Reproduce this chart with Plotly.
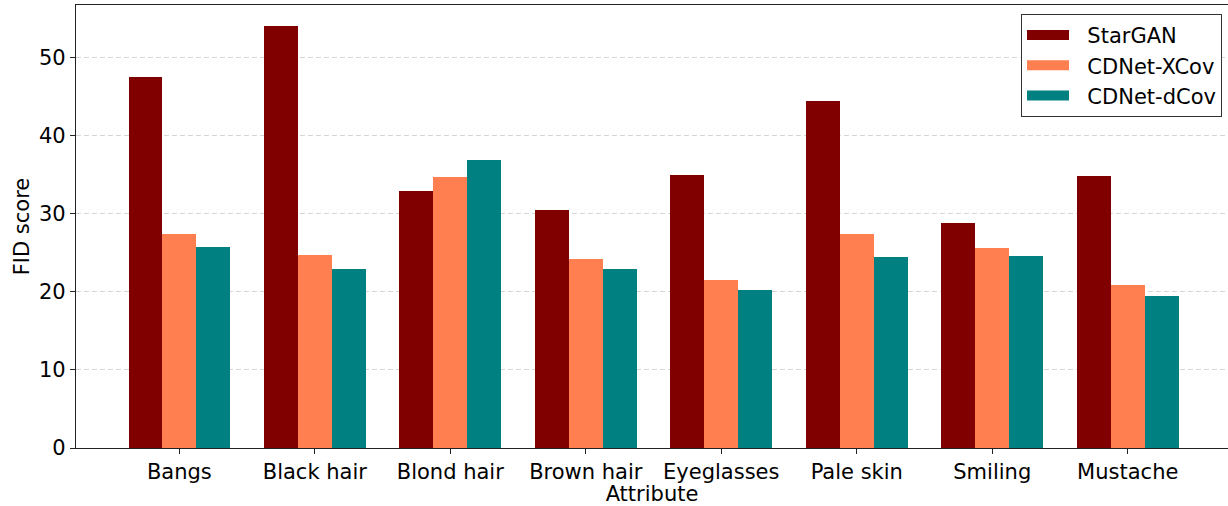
import plotly.graph_objects as go

# FID scores per facial attribute for each model
attributes = ["Bangs", "Black hair", "Blond hair", "Brown hair",
              "Eyeglasses", "Pale skin", "Smiling", "Mustache"]
stargan = [47.5, 54.0, 32.9, 30.5, 35.0, 44.4, 28.8, 34.8]
cdnet_xcov = [27.4, 24.7, 34.7, 24.2, 21.5, 27.4, 25.6, 20.8]
cdnet_dcov = [25.7, 22.9, 36.9, 22.9, 20.2, 24.5, 24.6, 19.4]

series = [
    ("StarGAN", stargan, "#800000"),
    ("CDNet-XCov", cdnet_xcov, "#FF7F50"),
    ("CDNet-dCov", cdnet_dcov, "#008080"),
]

FONT = "DejaVu Sans"
FS = 21
NBSP = "\u00a0"
bar_w = 0.25
x_idx = list(range(len(attributes)))

fig = go.Figure()
for k, (name, vals, color) in enumerate(series):
    fig.add_trace(go.Bar(
        x=[i + (k - 1) * bar_w for i in x_idx],
        y=vals,
        width=bar_w,
        name=name,
        legendgroup=name,
        showlegend=False,
        marker=dict(color=color, line=dict(width=0)),
    ))
    # wide colour patch for the legend key, label padded away from it
    fig.add_trace(go.Scatter(
        x=[None], y=[None], mode="lines",
        name=NBSP * 2 + name, legendgroup=name,
        line=dict(color=color, width=10),
        hoverinfo="skip",
    ))

ymax = max(max(s[1]) for s in series) * 1.05

fig.update_layout(
    width=1228, height=506,
    margin=dict(l=76, r=0, t=5, b=58),
    plot_bgcolor="white", paper_bgcolor="white",
    font=dict(family=FONT, size=FS, color="black"),
    barmode="overlay",
    bargap=0,
    showlegend=True,
    legend=dict(
        x=0.9948, y=0.98, xanchor="right", yanchor="top",
        bgcolor="white", bordercolor="#333333", borderwidth=1,
        font=dict(family=FONT, size=FS, color="black"),
        itemwidth=42, tracegroupgap=0,
    ),
)

fig.update_xaxes(
    range=[-0.7625, 7.74],
    tickmode="array", tickvals=x_idx, ticktext=attributes,
    ticks="outside", ticklen=5, tickwidth=1.2, tickcolor="#222222",
    showline=True, linecolor="#222222", linewidth=1.2, mirror=True,
    showgrid=False, zeroline=False,
    title=dict(text="Attribute", standoff=3, font=dict(size=FS)),
)
fig.update_yaxes(
    range=[0, ymax],
    tickvals=[0, 10, 20, 30, 40, 50],
    ticks="outside", ticklen=5, tickwidth=1.2, tickcolor="#222222",
    showline=True, linecolor="#222222", linewidth=1.2, mirror=False,
    showgrid=True, gridcolor="#d6d6d6", gridwidth=1.2, griddash="5px,3px",
    zeroline=False,
    title=dict(text="FID score", standoff=3, font=dict(size=FS)),
)

fig.write_html("out.html")
